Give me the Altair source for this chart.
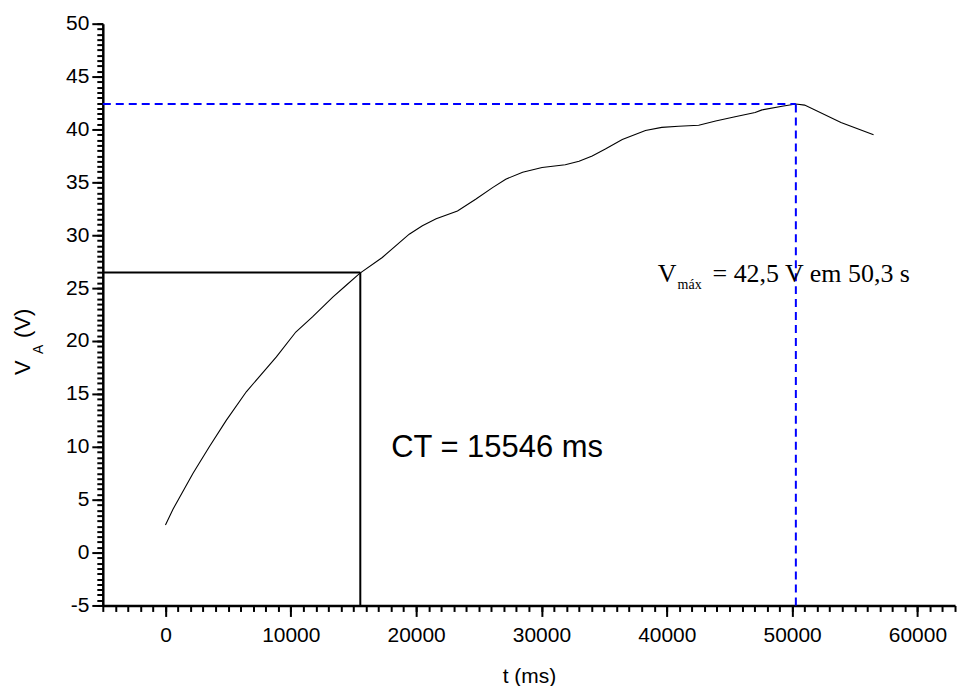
import altair as alt
import pandas as pd

# curve
t_ms = [0, 600, 2200, 3500, 4850, 6450, 8850, 10400, 11750, 13350, 14400, 15500,
        17300, 19450, 20500, 21600, 23300, 24750, 26100, 27150, 28500, 30050,
        31900, 33000, 34050, 35100, 36450, 38300, 39600, 40950, 42550, 43900,
        45450, 47050, 47600, 49200, 50300, 51000, 53900, 56500]
v_volts = [2.6, 4.1, 7.5, 10.0, 12.5, 15.2, 18.5, 20.85, 22.3, 24.15, 25.25, 26.4,
           27.9, 30.1, 30.9, 31.55, 32.3, 33.4, 34.5, 35.3, 35.95, 36.4,
           36.67, 37.0, 37.5, 38.15, 39.05, 39.9, 40.2, 40.3, 40.4, 40.8,
           41.2, 41.6, 41.85, 42.2, 42.4, 42.3, 40.65, 39.5]

x_major = [0, 10000, 20000, 30000, 40000, 50000, 60000]
x_minor = list(range(-5000, 63001, 1000))
y_major = [-5, 0, 5, 10, 15, 20, 25, 30, 35, 40, 45, 50]
y_minor = [v / 2 for v in range(-10, 101)]

x_min, x_max = -5000, 63000
y_min, y_max = -5, 50

ct_t, ct_v = 15546, 26.48
peak_t, peak_v = 50300, 42.4

df = pd.DataFrame({"t": t_ms, "v": v_volts})

xs = alt.Scale(domain=[x_min, x_max], nice=False, zero=False)
ys = alt.Scale(domain=[y_min, y_max], nice=False, zero=False)

FONT = "Liberation Sans"
SERIF = "Liberation Serif"

major_x = alt.Axis(values=x_major, labelExpr="toString(datum.value)", tickSize=11, tickWidth=2,
                   domainWidth=2.5, domainColor="black", tickColor="black", labelColor="black",
                   labelFont=FONT, labelFontSize=21, labelPadding=8, grid=False,
                   title="t (ms)", titleFont=FONT, titleFontSize=21, titleFontWeight="normal",
                   titleColor="black", titlePadding=20, orient="bottom", labelFlush=False)
minor_x = alt.Axis(values=x_minor, tickSize=6, tickWidth=2, tickColor="black", labels=False,
                   domain=False, grid=False, title=None, orient="bottom")
major_y = alt.Axis(values=y_major, labelExpr="toString(datum.value)", tickSize=11, tickWidth=2,
                   domainWidth=2.5, domainColor="black", tickColor="black", labelColor="black",
                   labelFont=FONT, labelFontSize=21, labelPadding=3, grid=False,
                   title=None, orient="left", labelFlush=False)
minor_y = alt.Axis(values=y_minor, tickSize=6, tickWidth=2, tickColor="black", labels=False,
                   domain=False, grid=False, title=None, orient="left")

base = alt.Chart(df)

curve = base.mark_line(color="black", strokeWidth=1.1).encode(
    x=alt.X("t:Q", scale=xs, axis=major_x),
    y=alt.Y("v:Q", scale=ys, axis=major_y),
)
minor = base.mark_line(opacity=0).encode(
    x=alt.X("t:Q", scale=xs, axis=minor_x),
    y=alt.Y("v:Q", scale=ys, axis=minor_y),
)

lines_df = pd.DataFrame({
    "x": [x_min, ct_t, x_min, peak_t],
    "x2": [ct_t, ct_t, peak_t, peak_t],
    "y": [ct_v, y_min, peak_v, y_min],
    "y2": [ct_v, ct_v, peak_v, peak_v],
    "kind": ["ct", "ct", "max", "max"],
})
ct_rules = alt.Chart(lines_df).transform_filter(alt.datum.kind == "ct").mark_rule(
    color="black", strokeWidth=2).encode(
    x=alt.X("x:Q", scale=xs, axis=None), x2="x2:Q",
    y=alt.Y("y:Q", scale=ys, axis=None), y2="y2:Q")
max_rules = alt.Chart(lines_df).transform_filter(alt.datum.kind == "max").mark_rule(
    color="#0000ff", strokeWidth=2, strokeDash=[8, 5]).encode(
    x=alt.X("x:Q", scale=xs, axis=None), x2="x2:Q",
    y=alt.Y("y:Q", scale=ys, axis=None), y2="y2:Q")

def label(text, x, y, size, font=FONT, angle=0):
    return alt.Chart(pd.DataFrame({"s": [text]})).mark_text(
        align="left", baseline="alphabetic", font=font, fontSize=size,
        color="black", angle=angle).encode(
        text="s:N", x=alt.value(x), y=alt.value(y))

ct_text = label("CT = 15546 ms", 289, 434, 31)
vmax_v = label("V", 556, 259, 26, SERIF)
vmax_sub = label("máx", 576, 266, 14, SERIF)
vmax_rest = label("= 42,5 V em 50,3 s", 611, 259, 26, SERIF)

ytitle_v = label("V", -73, 352, 22, angle=270)
ytitle_a = label("A", -60, 331, 14, angle=270)
ytitle_p = label("(V)", -73, 315, 22, angle=270)

chart = alt.layer(
    minor, curve, ct_rules, max_rules, ct_text, vmax_v, vmax_sub, vmax_rest,
    ytitle_v, ytitle_a, ytitle_p,
).resolve_axis(x="independent", y="independent").properties(
    width=854, height=583,
    autosize=alt.AutoSizeParams(type="none"),
    padding={"left": 95, "top": 15, "right": 10, "bottom": 80},
    background="white",
).configure_view(stroke=None)

chart.save("out.html", embed_options={"renderer": "svg", "actions": False})
